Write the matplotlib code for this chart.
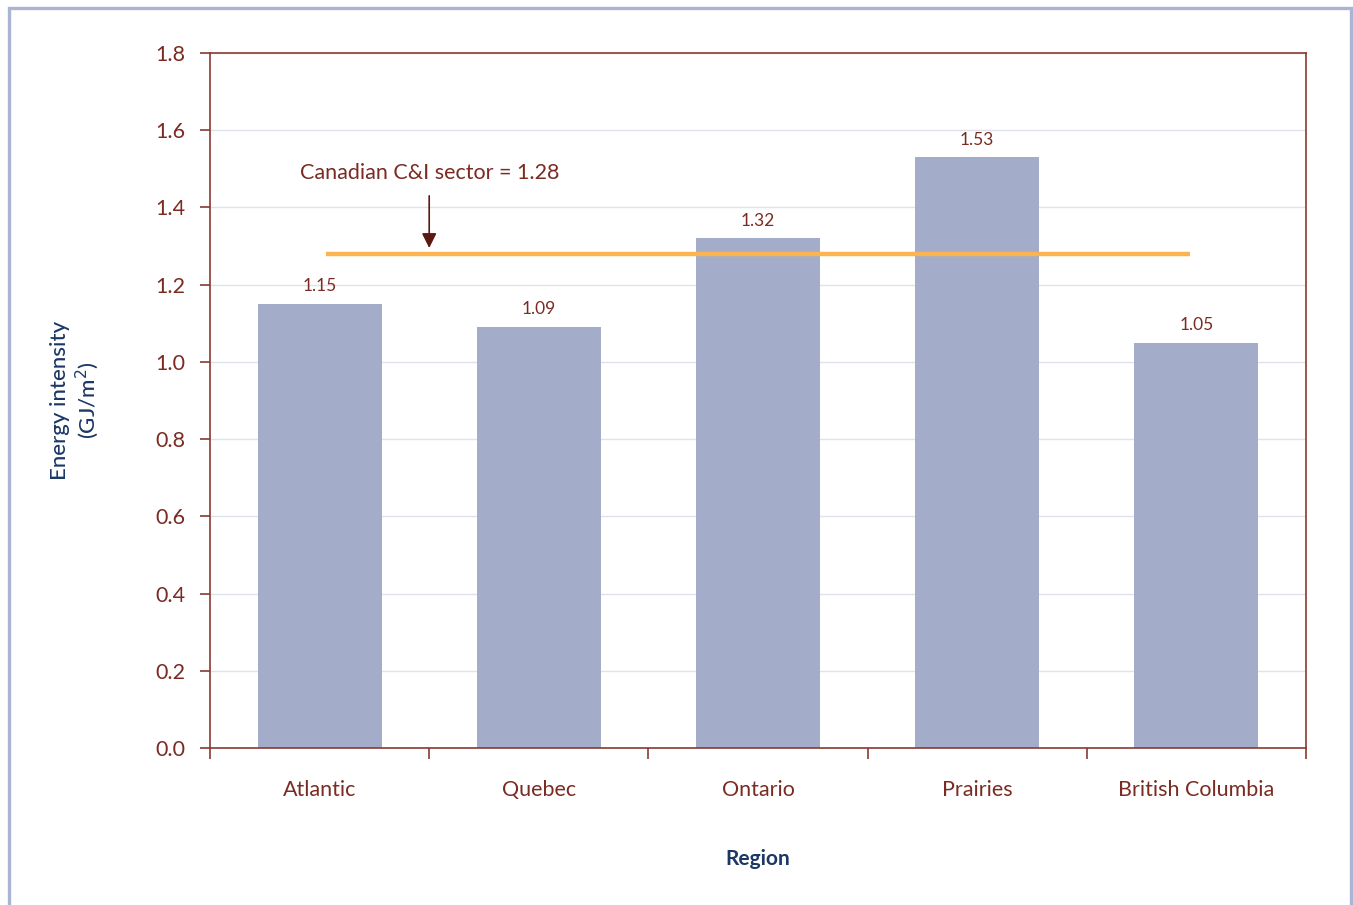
import matplotlib
matplotlib.use("Agg")
import matplotlib.pyplot as plt
from matplotlib.patches import Rectangle
import numpy as np

regions = ["Atlantic", "Quebec", "Ontario", "Prairies", "British Columbia"]
intensity = [1.15, 1.09, 1.32, 1.53, 1.05]
national_value = 1.28
national_label = "Canadian C&I sector = 1.28"
y_ticks = [0.0, 0.2, 0.4, 0.6, 0.8, 1.0, 1.2, 1.4, 1.6, 1.8]

plt.rcParams["font.family"] = ["Lato", "DejaVu Sans"]

text_red = "#7a2b22"
spine_red = "#8a3a30"
navy = "#1b3766"
bar_color = "#a3adc9"
line_orange = "#fbb44f"
grid_color = "#dfe2ec"
frame_color = "#a9b5d3"

fig = plt.figure(figsize=(13.53, 9.05), dpi=100)
ax = fig.add_axes([210 / 1353, 1 - 748 / 905, (1306 - 210) / 1353, (748 - 53) / 905])

x = np.arange(len(regions))
ax.bar(x, intensity, width=0.566, color=bar_color, zorder=2)

for xi, v in zip(x, intensity):
    ax.text(xi, v + 0.025, f"{v:.2f}", ha="center", va="bottom",
            fontsize=12.5, color=text_red, zorder=4)

# national average reference line
ax.hlines(national_value, 0.03, 3.97, color=line_orange, lw=3.2, zorder=3)
ax.annotate("", xy=(0.5, 1.295), xytext=(0.5, 1.43),
            arrowprops=dict(arrowstyle="-|>", color="#5a1a12", lw=1.2,
                            mutation_scale=22, shrinkA=0, shrinkB=0), zorder=4)
ax.text(0.5, 1.49, national_label, ha="center", va="center",
        fontsize=15.5, color=text_red, zorder=4)

ax.set_xlim(-0.5, 4.5)
ax.set_ylim(0, 1.8)
ax.set_yticks(y_ticks)
ax.set_yticklabels([f"{t:.1f}" for t in y_ticks], fontsize=15.5, color=text_red)
ax.set_xticks(x)
ax.set_xticklabels(regions, fontsize=15.5, color=text_red)
ax.tick_params(axis="x", which="major", length=0, pad=23)
ax.set_xticks(np.arange(-0.5, 5, 1.0), minor=True)
ax.tick_params(axis="x", which="minor", length=8, width=1.2, color=spine_red, direction="out")
ax.tick_params(axis="y", length=7, width=1.2, color=spine_red, direction="out", pad=11)

ax.yaxis.grid(True, color=grid_color, lw=1.0, zorder=0)
ax.set_axisbelow(True)
for s in ax.spines.values():
    s.set_color(spine_red)
    s.set_linewidth(1.2)

ax.set_ylabel("Energy intensity\n(GJ/m$^2$)", fontsize=16, color=navy,
              fontweight="medium", labelpad=39, linespacing=1.15)
ax.set_xlabel("Region", fontsize=15, color=navy, fontweight="bold", labelpad=35)

# outer panel border
fig.patches.append(Rectangle((9 / 1353, -0.1), (1351 - 9) / 1353, 1.1 - 8 / 905,
                             transform=fig.transFigure, fill=False,
                             edgecolor=frame_color, lw=2.4, zorder=0))

fig.savefig("out.png", dpi=100)
